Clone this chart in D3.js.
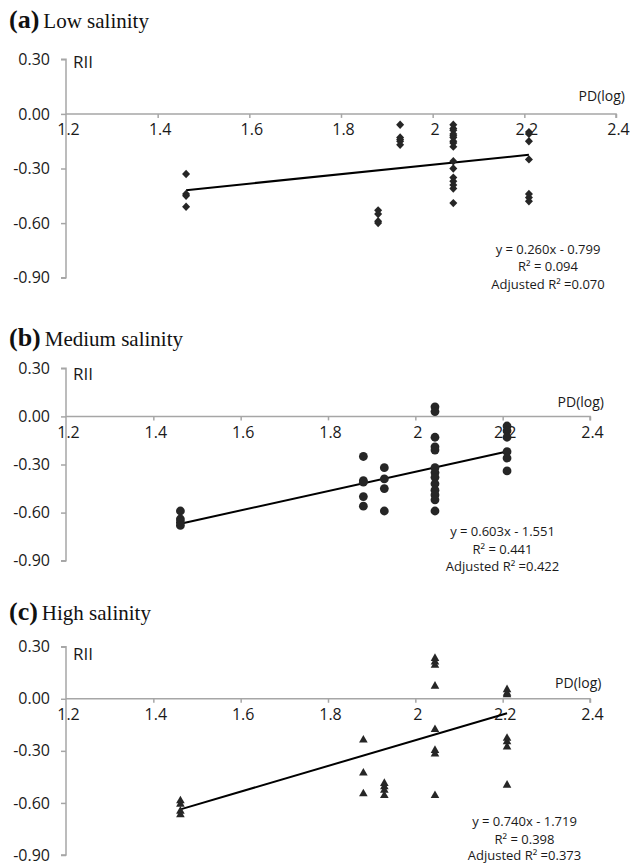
<!DOCTYPE html>
<html>
<head>
<meta charset="utf-8">
<script src="https://cdn.jsdelivr.net/npm/d3@7"></script>
<style>
  html, body { margin: 0; padding: 0; background: #fff; }
  svg { display: block; }
</style>
</head>
<body>
<svg id="chart" width="632" height="866"></svg>
<script>
// ---------------- DATA ----------------
const xTickValues = [1.2, 1.4, 1.6, 1.8, 2.0, 2.2, 2.4];
const xTickLabels = ["1.2", "1.4", "1.6", "1.8", "2", "2.2", "2.4"];
const yTickValues = [0.3, 0.0, -0.3, -0.6, -0.9];
const yTickLabels = ["0.30", "0.00", "-0.30", "-0.60", "-0.90"];

// PD(log) groups
const pdLevels = [1.462, 1.881, 1.929, 2.045, 2.210];

// RII values per PD group, low salinity (a)
const lowRII = [
  [-0.33, -0.44, -0.45, -0.51],
  [-0.53, -0.55, -0.59, -0.60],
  [-0.06, -0.13, -0.14, -0.15, -0.17],
  [-0.06, -0.08, -0.09, -0.11, -0.12, -0.13, -0.15, -0.16, -0.18, -0.26, -0.30, -0.35, -0.37, -0.39, -0.41, -0.49],
  [-0.10, -0.11, -0.15, -0.25, -0.44, -0.46, -0.48]
];
// medium salinity (b)
const mediumRII = [
  [-0.59, -0.64, -0.66, -0.68],
  [-0.25, -0.40, -0.41, -0.50, -0.56],
  [-0.32, -0.39, -0.45, -0.59],
  [0.06, 0.03, -0.13, -0.19, -0.21, -0.32, -0.35, -0.38, -0.42, -0.46, -0.49, -0.52, -0.59],
  [-0.06, -0.09, -0.13, -0.22, -0.26, -0.34]
];
// high salinity (c)
const highRII = [
  [-0.58, -0.60, -0.64, -0.66],
  [-0.23, -0.42, -0.54],
  [-0.48, -0.50, -0.52, -0.55],
  [0.24, 0.22, 0.20, 0.08, -0.17, -0.29, -0.31, -0.55],
  [0.06, 0.04, 0.03, -0.22, -0.24, -0.27, -0.49]
];

// regression fits
const slopes = [0.260, 0.603, 0.740];
const intercepts = [-0.799, -1.551, -1.719];
const fitRange = [1.462, 2.210];
const eqTexts = ["y = 0.260x - 0.799", "y = 0.603x - 1.551", "y = 0.740x - 1.719"];
const r2Texts = ["R\u00B2 = 0.094", "R\u00B2 = 0.441", "R\u00B2 = 0.398"];
const adjTexts = ["Adjusted R\u00B2 =0.070", "Adjusted R\u00B2 =0.422", "Adjusted R\u00B2 =0.373"];
const panelLetters = ["(a)", "(b)", "(c)"];
const panelTitles = ["Low salinity", "Medium salinity", "High salinity"];
const seriesData = [lowRII, mediumRII, highRII];
const markerTypes = ["diamond", "circle", "triangle"];

// ---------------- LAYOUT ----------------
const layout = [
  { x0: 66, x1: 616, yTop: 59.3, yBot: 277.7, titleY: 27.5, riiY: 67.5, pdX: 625, pdY: 101, annX: 548, annY: [253.5, 271, 288.5] },
  { x0: 66, x1: 590, yTop: 368.3, yBot: 560.7, titleY: 346, riiY: 379.5, pdX: 604, pdY: 406.5, annX: 502.5, annY: [536, 553.5, 571] },
  { x0: 66, x1: 590, yTop: 646.7, yBot: 855, titleY: 619.5, riiY: 659.5, pdX: 601.5, pdY: 687.5, annX: 524.5, annY: [826, 843.5, 860] }
];

const axisColor = "#a6a6a6";
const markColor = "#262626";
const textColor = "#1a1a1a";
const sansFont = "'Open Sans', 'Noto Sans', sans-serif";
const serifFont = "'Liberation Serif', 'Times New Roman', serif";

const svg = d3.select("#chart");

// custom marker shapes (size ignored; fixed pixel dimensions)
const diamondType = { draw(ctx) { const w = 4.0, h = 4.2; ctx.moveTo(0, -h); ctx.lineTo(w, 0); ctx.lineTo(0, h); ctx.lineTo(-w, 0); ctx.closePath(); } };
const triangleType = { draw(ctx) { const w = 4.3, h = 3.8; ctx.moveTo(0, -h); ctx.lineTo(w, h); ctx.lineTo(-w, h); ctx.closePath(); } };
const circleType = { draw(ctx) { const r = 4.4; ctx.moveTo(r, 0); ctx.arc(0, 0, r, 0, 2 * Math.PI); } };
const symbolFor = {
  diamond: d3.symbol().type(diamondType),
  circle: d3.symbol().type(circleType),
  triangle: d3.symbol().type(triangleType)
};

seriesData.forEach((groups, i) => {
  const L = layout[i];
  const x = d3.scaleLinear().domain([1.2, 2.4]).range([L.x0, L.x1]);
  const y = d3.scaleLinear().domain([-0.9, 0.3]).range([L.yBot, L.yTop]);
  const g = svg.append("g");

  // title
  const t = g.append("text")
    .attr("x", 9).attr("y", L.titleY)
    .attr("font-family", serifFont).attr("fill", "#111");
  t.append("tspan").attr("font-weight", "bold").attr("font-size", 26).text(panelLetters[i]);
  t.append("tspan").attr("font-size", 21).attr("dx", 4).text(panelTitles[i]);

  // y axis
  const yAxis = d3.axisLeft(y).tickValues(yTickValues)
    .tickFormat((d, k) => yTickLabels[k]).tickSize(5).tickPadding(11);
  const ya = g.append("g").attr("transform", `translate(${L.x0},0)`).call(yAxis);
  ya.select(".domain").attr("stroke", axisColor).attr("stroke-width", 1.5)
    .attr("d", `M-5,${y(0.3)}H0V${y(-0.9)}H-5`);
  ya.selectAll(".tick line").attr("stroke", axisColor).attr("stroke-width", 1.5);
  ya.selectAll(".tick text").attr("font-family", sansFont).attr("font-size", 16)
    .attr("fill", textColor);

  // x axis at y = 0
  const xAxis = d3.axisBottom(x).tickValues(xTickValues)
    .tickFormat((d, k) => xTickLabels[k]).tickSize(4).tickPadding(6);
  const xa = g.append("g").attr("transform", `translate(0,${y(0)})`).call(xAxis);
  xa.select(".domain").attr("stroke", axisColor).attr("stroke-width", 1.5)
    .attr("d", `M${L.x0},0H${L.x1}V4`);
  xa.selectAll(".tick line").attr("stroke", axisColor).attr("stroke-width", 1.5);
  xa.selectAll(".tick").filter(d => d === 1.2).select("line").remove();
  xa.selectAll(".tick text").attr("font-family", sansFont).attr("font-size", 16)
    .attr("fill", textColor).attr("dx", 2);

  // axis titles
  g.append("text").attr("x", L.x0 + 7).attr("y", L.riiY)
    .attr("font-family", sansFont).attr("font-size", 17).attr("fill", textColor).text("RII");
  g.append("text").attr("x", L.pdX).attr("y", L.pdY).attr("text-anchor", "end")
    .attr("font-family", sansFont).attr("font-size", 14).attr("fill", textColor).text("PD(log)");

  // regression line
  const fit = fitRange.map(v => [v, slopes[i] * v + intercepts[i]]);
  g.append("path")
    .attr("d", d3.line().x(d => x(d[0])).y(d => y(d[1]))(fit))
    .attr("stroke", "#000").attr("stroke-width", 2).attr("fill", "none");

  // points
  const pts = [];
  groups.forEach((vals, k) => vals.forEach(v => pts.push([pdLevels[k], v])));
  g.append("g").selectAll("path").data(pts).join("path")
    .attr("transform", d => `translate(${x(d[0])},${y(d[1])})`)
    .attr("d", symbolFor[markerTypes[i]])
    .attr("fill", markColor);

  // annotation
  [eqTexts[i], r2Texts[i], adjTexts[i]].forEach((s, k) => {
    g.append("text").attr("x", L.annX).attr("y", L.annY[k])
      .attr("text-anchor", "middle").attr("font-family", sansFont)
      .attr("font-size", 13).attr("fill", textColor).text(s);
  });
});
</script>
</body>
</html>
